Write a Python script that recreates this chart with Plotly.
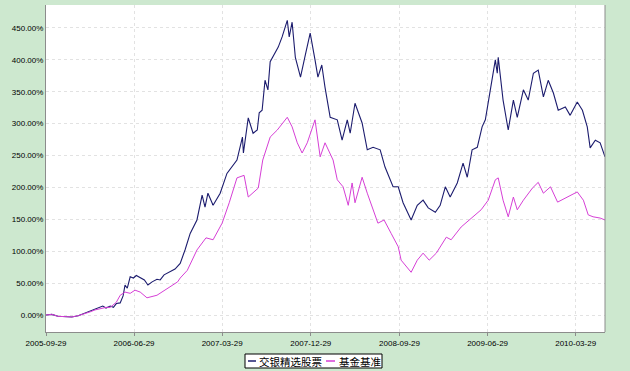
import plotly.graph_objects as go

# 交银精选股票 (fund) cumulative return, %
fund_dates = [
    "2005-09-29", "2005-10-17", "2005-11-05", "2005-11-27", "2005-12-18", "2006-01-07",
    "2006-01-28", "2006-02-13", "2006-02-28", "2006-03-15", "2006-03-24", "2006-04-03",
    "2006-04-16", "2006-04-26", "2006-05-05", "2006-05-17", "2006-05-26", "2006-06-01",
    "2006-06-08", "2006-06-17", "2006-06-27", "2006-07-06", "2006-07-18", "2006-07-31",
    "2006-08-11", "2006-08-24", "2006-09-08", "2006-09-18", "2006-09-30", "2006-10-19",
    "2006-11-03", "2006-11-19", "2006-12-04", "2006-12-20", "2007-01-10", "2007-01-26",
    "2007-02-04", "2007-02-13", "2007-03-01", "2007-03-23", "2007-04-13", "2007-05-14",
    "2007-05-31", "2007-06-03", "2007-06-18", "2007-07-03", "2007-07-16", "2007-07-22",
    "2007-07-31", "2007-08-09", "2007-08-18", "2007-08-25", "2007-09-09", "2007-09-19",
    "2007-10-01", "2007-10-17", "2007-10-23", "2007-11-01", "2007-11-11", "2007-11-27",
    "2007-12-12", "2007-12-27", "2008-01-11", "2008-01-20", "2008-02-01", "2008-02-11",
    "2008-02-27", "2008-03-20", "2008-04-04", "2008-04-20", "2008-04-29", "2008-05-14",
    "2008-06-05", "2008-06-21", "2008-07-09", "2008-07-31", "2008-08-15", "2008-09-09",
    "2008-09-25", "2008-10-10", "2008-11-04", "2008-11-23", "2008-12-11", "2008-12-27",
    "2009-01-18", "2009-02-02", "2009-02-18", "2009-03-05", "2009-03-27", "2009-04-14",
    "2009-04-27", "2009-05-12", "2009-05-28", "2009-06-12", "2009-06-22", "2009-07-07",
    "2009-07-23", "2009-07-29", "2009-08-01", "2009-08-16", "2009-09-01", "2009-09-17",
    "2009-09-29", "2009-10-18", "2009-11-02", "2009-11-18", "2009-12-03", "2009-12-19",
    "2010-01-03", "2010-01-19", "2010-02-03", "2010-02-25", "2010-03-12", "2010-04-03",
    "2010-04-19", "2010-05-04", "2010-05-13", "2010-05-29", "2010-06-13", "2010-06-28",
]
fund_values = [
    0, 1, -2, -3, -3, -1,
    3, 7, 10, 12, 14, 11,
    14, 12, 18, 19, 30, 47,
    42, 60, 58, 62, 58, 55,
    47, 52, 56, 55, 63, 68,
    72, 81, 102, 128, 149, 188,
    169, 191, 172, 191, 222, 243,
    279, 254, 309, 285, 290, 317,
    321, 368, 353, 397, 411, 420,
    436, 462, 436, 459, 404, 373,
    408, 442, 400, 373, 392, 357,
    310, 306, 274, 306, 285, 332,
    301, 259, 263, 259, 232, 201,
    201, 176, 149, 172, 180, 168,
    161, 172, 201, 185, 207, 238,
    216, 259, 263, 295, 306, 353,
    400, 379, 404, 337, 290, 337,
    310, 353, 337, 379, 384, 342,
    368, 348, 321, 326, 313, 334,
    321, 295, 262, 274, 270, 248,
]

# 基金基准 (benchmark) cumulative return, %
bench_dates = [
    "2005-09-29", "2005-10-17", "2005-11-05", "2005-11-27", "2005-12-18", "2006-01-07",
    "2006-01-28", "2006-02-13", "2006-02-28", "2006-03-15", "2006-04-03", "2006-04-16",
    "2006-05-05", "2006-05-17", "2006-06-01", "2006-06-17", "2006-07-02", "2006-07-18",
    "2006-08-08", "2006-09-08", "2006-10-10", "2006-11-11", "2006-11-19", "2006-12-11",
    "2007-01-10", "2007-02-07", "2007-03-01", "2007-03-29", "2007-04-20", "2007-05-14",
    "2007-06-05", "2007-06-18", "2007-07-19", "2007-08-02", "2007-08-25", "2007-09-16",
    "2007-10-17", "2007-11-01", "2007-11-17", "2007-12-02", "2007-12-18", "2008-01-11",
    "2008-01-27", "2008-02-11", "2008-03-07", "2008-03-20", "2008-04-07", "2008-04-23",
    "2008-05-05", "2008-05-14", "2008-06-05", "2008-06-21", "2008-07-24", "2008-08-12",
    "2008-09-03", "2008-09-25", "2008-10-04", "2008-11-04", "2008-11-23", "2008-12-11",
    "2008-12-30", "2009-01-21", "2009-02-21", "2009-03-08", "2009-04-08", "2009-05-09",
    "2009-06-09", "2009-07-01", "2009-07-23", "2009-08-01", "2009-08-16", "2009-09-01",
    "2009-09-17", "2009-09-29", "2009-10-18", "2009-11-15", "2009-12-03", "2009-12-19",
    "2010-01-10", "2010-02-01", "2010-03-03", "2010-04-03", "2010-04-22", "2010-05-07",
    "2010-05-22", "2010-06-13", "2010-06-28",
]
bench_values = [
    0, 1, -2, -3, -3, -1,
    2, 5, 8, 10, 12, 12,
    20, 31, 36, 34, 39, 36,
    27, 31, 42, 52, 58, 70,
    102, 121, 118, 144, 176, 215,
    219, 185, 199, 243, 279, 290,
    310, 295, 270, 254, 270, 306,
    248, 270, 243, 212, 201, 172,
    207, 176, 216, 191, 144, 149,
    128, 107, 86, 67, 86, 97,
    86, 97, 122, 118, 138, 152,
    165, 180, 212, 215, 180, 154,
    185, 165, 180, 199, 208, 191,
    201, 177, 185, 193, 180, 157,
    154, 152, 149,
]

series_names = ["交银精选股票", "基金基准"]
series_colors = ["#1c1c6e", "#d63fd6"]
tick_labels = ["2005-09-29", "2006-06-29", "2007-03-29", "2007-12-29",
               "2008-09-29", "2009-06-29", "2010-03-29"]
y_ticks = [0, 50, 100, 150, 200, 250, 300, 350, 400, 450]

fig = go.Figure()
fig.add_trace(go.Scatter(x=fund_dates, y=fund_values, mode="lines",
                         name=series_names[0], line=dict(color=series_colors[0], width=1.1)))
fig.add_trace(go.Scatter(x=bench_dates, y=bench_values, mode="lines",
                         name=series_names[1], line=dict(color=series_colors[1], width=1)))

fig.update_layout(
    width=630, height=371,
    margin=dict(l=46, r=25, t=5, b=39, autoexpand=False),
    paper_bgcolor="#cde8cf",
    plot_bgcolor="#ffffff",
    font=dict(family="Liberation Sans, Arial, sans-serif", size=8, color="#000000"),
    showlegend=False,
)
fig.update_xaxes(
    type="date", range=["2005-09-29", "2010-06-28"],
    tickvals=tick_labels, ticktext=tick_labels,
    showgrid=True, gridcolor="#e2e2e2", griddash="dot", gridwidth=1,
    showline=True, linecolor="#8c8c8c", linewidth=1, mirror=False,
    ticks="outside", ticklen=3, tickcolor="#8c8c8c",
    zeroline=False,
)
fig.update_yaxes(
    range=[-26.6, 486], tickvals=y_ticks,
    ticktext=[f"{v:.2f}%" for v in y_ticks],
    showgrid=True, gridcolor="#e2e2e2", griddash="dot", gridwidth=1,
    showline=True, linecolor="#8c8c8c", linewidth=1,
    ticks="", zeroline=False,
)
# right border of plot area
fig.add_shape(type="line", xref="paper", yref="paper", x0=1, x1=1, y0=0, y1=1,
              line=dict(color="#8c8c8c", width=1))

# hand-drawn legend box below the plot (positions in pixels -> paper coords)
W, H, L, B = 559.0, 327.0, 46.0, 332.0
def px(x):
    return (x - L) / W
def py(y):
    return (B - y) / H

fig.add_shape(type="rect", xref="paper", yref="paper",
              x0=px(245), x1=px(382), y0=py(368), y1=py(354),
              fillcolor="#ffffff", line=dict(color="#000000", width=1), layer="above")
legend_items = [(248, 256, 258), (326, 335, 338)]
for (lx0, lx1, tx), name, color in zip(legend_items, series_names, series_colors):
    fig.add_shape(type="line", xref="paper", yref="paper",
                  x0=px(lx0), x1=px(lx1), y0=py(361), y1=py(361),
                  line=dict(color=color, width=1.5), layer="above")
    fig.add_annotation(xref="paper", yref="paper", x=px(tx), y=py(361.5),
                       xanchor="left", yanchor="middle", showarrow=False,
                       text=name, borderpad=0,
                       font=dict(family="Noto Sans CJK SC", size=10.5, color="#000000"))

fig.write_html("out.html", config={"displayModeBar": False},
               post_script="document.body.style.margin='0';document.body.style.padding='0';")
